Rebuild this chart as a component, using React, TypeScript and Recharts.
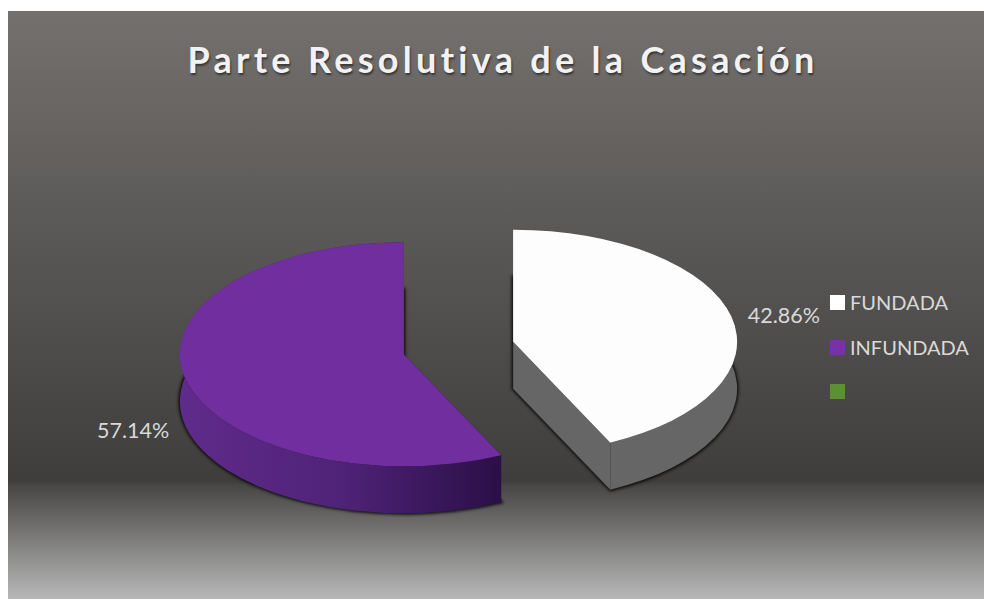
import { Legend, Pie, PieChart, Cell } from "recharts";

const categories = ["FUNDADA", "INFUNDADA", ""];
const counts = [3, 4, 0];
const legendColors = ["#ffffff", "#7b30a8", "#5b9135"];

const data = categories.map((name, i) => ({ name, value: counts[i] }));

const SQUASH = 0.5;
const DEPTH = 47;
const EXPLODE = 0.25;
const RAD = Math.PI / 180;

const point = (x: number, y: number, rx: number, ry: number, angle: number) => ({
  x: x + rx * Math.cos(angle * RAD),
  y: y - ry * Math.sin(angle * RAD),
});

function Slice3D(props: any) {
  const { cx, cy, outerRadius, startAngle, endAngle, index } = props;
  if (startAngle === endAngle) return <g />;
  const rx = outerRadius;
  const ry = outerRadius * SQUASH;
  const mid = (startAngle + endAngle) / 2;
  const x = cx + EXPLODE * rx * Math.cos(mid * RAD);
  const y = cy - EXPLODE * ry * Math.sin(mid * RAD);
  const a = point(x, y, rx, ry, startAngle);
  const b = point(x, y, rx, ry, endAngle);
  const large = Math.abs(endAngle - startAngle) > 180 ? 1 : 0;
  const sweep = endAngle < startAngle ? 1 : 0;
  const back = sweep ? 0 : 1;

  const wedge = (dy: number) =>
    `M${x},${y + dy}L${a.x},${a.y + dy}A${rx},${ry} 0 ${large} ${sweep} ${b.x},${b.y + dy}Z`;
  const arcWall =
    `M${a.x},${a.y}A${rx},${ry} 0 ${large} ${sweep} ${b.x},${b.y}` +
    `L${b.x},${b.y + DEPTH}A${rx},${ry} 0 ${large} ${back} ${a.x},${a.y + DEPTH}Z`;
  const cutWall = (p: { x: number; y: number }) =>
    `M${x},${y}L${p.x},${p.y}L${p.x},${p.y + DEPTH}L${x},${y + DEPTH}Z`;

  const isWhite = index === 0;
  const sideFill = isWhite ? "#666666" : "url(#purpleSide)";
  const cutFill = isWhite ? "#666666" : "#2c0f48";
  const topFill = isWhite ? "#fdfdfd" : "#702e9e";

  return (
    <g>
      <defs>
        <linearGradient id="purpleSide" x1="0" y1="0" x2="1" y2="0">
          <stop offset="0%" stopColor="#602b8a" />
          <stop offset="50%" stopColor="#4f2378" />
          <stop offset="100%" stopColor="#2b0f47" />
        </linearGradient>
      </defs>
      <path
        d={wedge(DEPTH)}
        fill="#0d0d0d"
        stroke="#0d0d0d"
        strokeWidth={3}
        style={{ filter: "blur(1.5px)" }}
      />
      <path d={cutWall(a)} fill={cutFill} />
      <path d={cutWall(b)} fill={cutFill} />
      <path d={arcWall} fill={sideFill} />
      <path d={wedge(0)} fill={topFill} />
    </g>
  );
}

function PercentLabel(props: any) {
  const { cx, cy, midAngle, outerRadius, percent } = props;
  if (!percent) return null;
  const sin = Math.sin(midAngle * RAD);
  const lx = cx + outerRadius * 1.49 * Math.cos(midAngle * RAD);
  const ly =
    cy - outerRadius * SQUASH * 1.49 * sin + (sin < 0 ? DEPTH - 2 : 4);
  return (
    <text
      x={lx}
      y={ly}
      textAnchor="middle"
      dominantBaseline="central"
      fill="#d9d9d9"
      fontSize={21.5}
      fontFamily="Lato"
    >
      {`${(percent * 100).toFixed(2)}%`}
    </text>
  );
}

function LegendList({ payload }: any) {
  return (
    <div style={{ fontFamily: "Lato", fontSize: 20, color: "#d9d9d9" }}>
      {(payload || []).map((entry: any, i: number) => (
        <div
          key={i}
          style={{ display: "flex", alignItems: "center", height: 44.7 }}
        >
          <span
            style={{
              width: 15,
              height: 15,
              background: entry.color,
              marginRight: 5,
              flex: "none",
            }}
          />
          <span>{entry.value}</span>
        </div>
      ))}
    </div>
  );
}

export default function App() {
  return (
    <div
      style={{
        position: "absolute",
        left: 0,
        top: 0,
        width: 984,
        height: 599,
        background: "#ffffff",
        overflow: "hidden",
      }}
    >
      <div
        style={{
          position: "absolute",
          left: 8,
          top: 11,
          width: 976,
          height: 588,
          background:
            "linear-gradient(180deg, #73706e 0%, #3f3e3c 80%, #474644 80.6%, #b8b8b8 100%)",
        }}
      />
      <div
        style={{
          position: "absolute",
          left: 8,
          width: 990,
          top: 37,
          textAlign: "center",
          fontFamily: "Lato",
          fontWeight: 700,
          fontSize: 36,
          letterSpacing: 4.3,
          color: "#f2f2f2",
          textShadow: "1px 2px 2px rgba(0,0,0,0.5)",
        }}
      >
        Parte Resolutiva de la Casación
      </div>
      <div style={{ position: "absolute", left: 0, top: 0 }}>
        <PieChart
          width={984}
          height={599}
          margin={{ top: 0, right: 0, bottom: 0, left: 0 }}
        >
          <Pie
            data={data}
            dataKey="value"
            nameKey="name"
            cx={458.5}
            cy={348}
            outerRadius={224}
            startAngle={90}
            endAngle={-270}
            stroke="none"
            legendType="square"
            shape={Slice3D}
            label={PercentLabel}
            labelLine={false}
            isAnimationActive={false}
          >
            {data.map((item, index) => (
              <Cell key={`${item.name}-${index}`} fill={legendColors[index]} />
            ))}
          </Pie>
          <Legend
            layout="vertical"
            align="center"
            verticalAlign="middle"
            itemSorter={null}
            wrapperStyle={{ left: 830, top: 280, width: 150 }}
            content={LegendList}
          />
        </PieChart>
      </div>
    </div>
  );
}
